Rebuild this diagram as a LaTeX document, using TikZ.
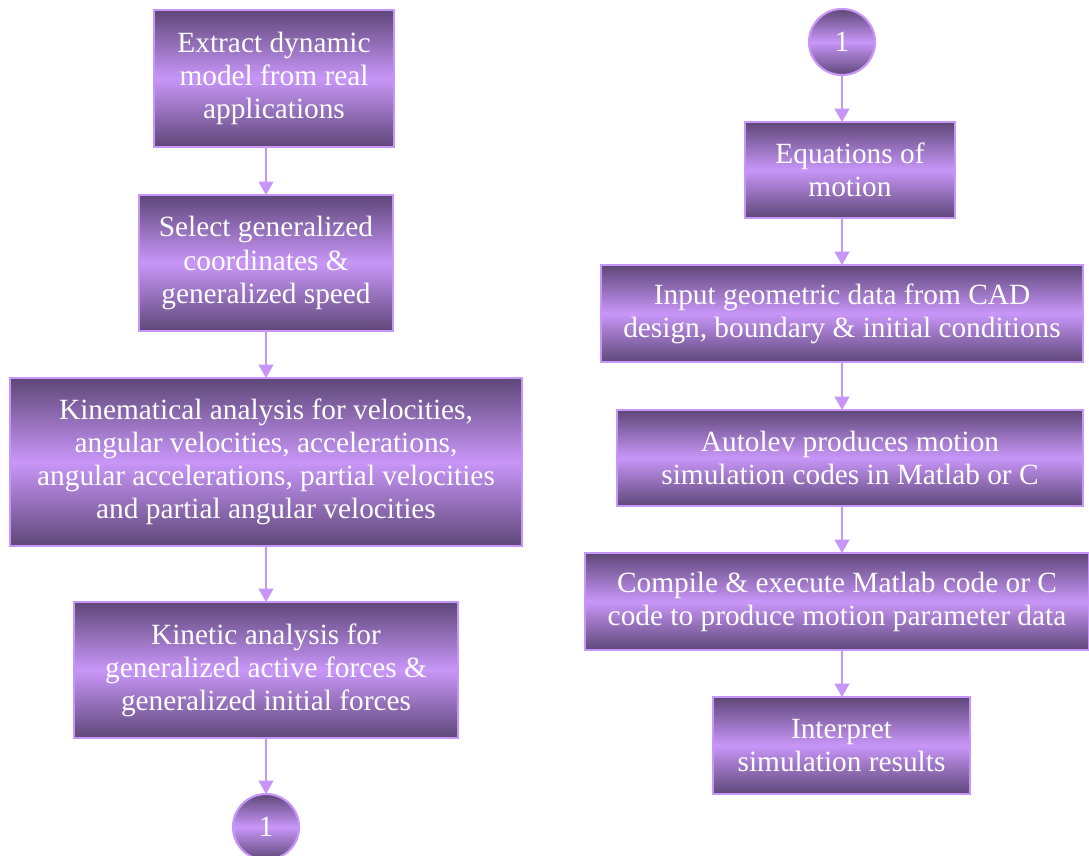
\documentclass[tikz,border=0pt]{standalone}
\usepackage{fontspec}
\setmainfont{Liberation Serif}
\usetikzlibrary{arrows.meta}
\definecolor{lavender}{HTML}{C896F8}
\definecolor{plumdark}{HTML}{5E4778}
\tikzset{
  stepbox/.style={draw=lavender, line width=1.6pt, inner sep=0pt, outer sep=0pt,
    top color=plumdark, bottom color=plumdark, middle color=lavender,
    text=white, align=center, font=\fontsize{22}{24.8}\selectfont},
  connector/.style={draw=lavender, line width=1.6pt, fill=lavender,
    circle, minimum size=49.5pt, inner sep=0pt, outer sep=0pt,
    top color=plumdark, bottom color=plumdark, middle color=lavender,
    text=white, font=\fontsize{22}{24}\selectfont},
  flow/.style={draw=lavender, line width=1.5pt, -{Triangle[width=11pt,length=10pt]}}
}
\begin{document}
\begin{tikzpicture}[x=0.75pt,y=-0.75pt]
\useasboundingbox (0,0) rectangle (1089,856);
% left column
\node[stepbox, minimum width=180pt, minimum height=102.75pt] (extract) at (274,78.5)
  {Extract dynamic\\model from real\\applications};
\node[stepbox, minimum width=190.5pt, minimum height=102pt] (select) at (266,263)
  {Select generalized\\coordinates \&\\generalized speed};
\node[stepbox, minimum width=384pt, minimum height=126pt] (kinem) at (266,462)
  {Kinematical analysis for velocities,\\angular velocities, accelerations,\\angular accelerations, partial velocities\\and partial angular velocities};
\node[stepbox, minimum width=288pt, minimum height=102pt] (kinet) at (266,670)
  {Kinetic analysis for\\generalized active forces \&\\generalized initial forces};
\node[connector] (conA) at (266,827) {1};
% right column
\node[connector] (conB) at (842,42) {1};
\node[stepbox, minimum width=157.5pt, minimum height=72pt] (eqn) at (850,170)
  {Equations of\\motion};
\node[stepbox, minimum width=361.5pt, minimum height=72.75pt] (input) at (842,313.5)
  {Input geometric data from CAD\\design, boundary \& initial conditions};
\node[stepbox, minimum width=349.5pt, minimum height=72pt] (autolev) at (850,458)
  {Autolev produces motion\\simulation codes in Matlab or C};
\node[stepbox, minimum width=378pt, minimum height=72.75pt] (compile) at (837,601.5)
  {Compile \& execute Matlab code or C\\code to produce motion parameter data};
\node[stepbox, minimum width=192.75pt, minimum height=72.75pt] (interp) at (841.5,745.5)
  {Interpret\\simulation results};
% arrows
\draw[flow] (extract.south -| select) -- (select);
\draw[flow] (select) -- (kinem);
\draw[flow] (kinem) -- (kinet);
\draw[flow] (kinet) -- (conA);
\draw[flow] (conB) -- (conB |- eqn.north);
\draw[flow] (eqn.south -| conB) -- (conB |- input.north);
\draw[flow] (input.south -| conB) -- (conB |- autolev.north);
\draw[flow] (autolev.south -| conB) -- (conB |- compile.north);
\draw[flow] (compile.south -| conB) -- (conB |- interp.north);
\end{tikzpicture}
\end{document}
